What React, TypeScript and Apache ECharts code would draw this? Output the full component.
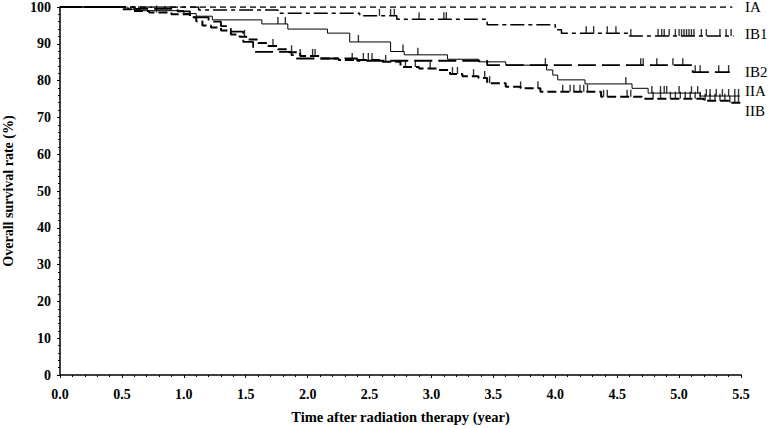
import React, { useEffect, useRef } from "react";
import * as echarts from "echarts";

// Kaplan–Meier step points: [time (year), survival (%)]
const stageNames = ["IA", "IB1", "IB2", "IIA", "IIB"];

const iaSteps: number[][] = [[0, 100]];
const iaEnd = 5.43;

const ib1Steps: number[][] = [
  [0, 100], [1.12, 99.2], [1.76, 98.3], [2.42, 97.6], [2.72, 96.7],
  [3.45, 95.2], [4.0, 93.8], [4.05, 92.9], [4.6, 92.1],
];
const ib1End = 5.44;
const ib1Censor = [
  2.58, 2.67, 2.7, 2.9, 3.1, 3.12, 4.25, 4.31, 4.42, 4.49, 4.61, 4.83, 4.86, 4.88,
  4.92, 4.97, 5.0, 5.02, 5.04, 5.06, 5.08, 5.1, 5.12, 5.18, 5.22, 5.33, 5.38, 5.42,
];

const ib2Steps: number[][] = [
  [0, 100], [0.6, 99.5], [0.95, 98.8], [1.05, 97.2], [1.2, 96.0], [1.3, 94.8],
  [1.38, 93.3], [1.48, 90.5], [1.56, 87.8], [1.87, 86.9], [1.91, 86.0],
  [2.4, 85.4], [3.45, 84.2], [5.11, 82.3],
];
const ib2End = 5.41;
const ib2Censor = [4.69, 4.71, 4.82, 4.95, 5.03, 5.13, 5.17, 5.32, 5.4];

const iiaSteps: number[][] = [
  [0, 100], [0.55, 99.4], [0.65, 99.0], [1.0, 98.2], [1.1, 97.5], [1.23, 96.5],
  [1.63, 95.4], [1.84, 94.0], [2.16, 92.9], [2.34, 90.5], [2.67, 87.9],
  [2.78, 87.0], [3.13, 85.8], [3.38, 85.1], [3.6, 84.2], [3.93, 82.9],
  [3.98, 81.5], [4.02, 80.2], [4.24, 79.1], [4.62, 77.9], [4.75, 76.6],
  [5.17, 75.8],
];
const iiaEnd = 5.49;
const iiaCensor = [
  1.76, 1.82, 2.41, 2.77, 2.89, 3.92, 4.57, 4.78, 4.85, 4.88, 4.9, 5.0, 5.1,
  5.15, 5.22, 5.25, 5.3, 5.35, 5.4, 5.45, 5.48,
];

const iibSteps: number[][] = [
  [0, 100], [0.5, 99.4], [0.58, 98.9], [0.72, 98.5], [0.9, 98.0], [1.05, 97.2],
  [1.1, 96.1], [1.15, 95.0], [1.22, 94.4], [1.3, 93.6], [1.38, 92.5],
  [1.45, 91.9], [1.52, 91.2], [1.6, 90.2], [1.68, 89.4], [1.76, 88.5],
  [1.85, 87.7], [1.94, 86.7], [2.1, 86.0], [2.25, 85.6], [2.6, 85.1],
  [2.75, 83.7], [2.9, 83.3], [3.05, 82.9], [3.15, 81.8], [3.25, 81.2],
  [3.38, 80.7], [3.45, 79.3], [3.6, 78.3], [3.72, 77.9], [3.88, 77.0],
  [4.37, 75.6], [4.7, 75.1], [5.2, 74.5], [5.4, 74.0],
];
const iibEnd = 5.5;
const iibCensor = [
  0.78, 1.49, 1.72, 1.87, 1.94, 2.04, 2.06, 2.36, 2.45, 2.49, 2.52, 2.63, 2.79,
  2.87, 2.99, 3.17, 3.21, 3.34, 3.43, 3.47, 3.72, 3.86, 4.06, 4.12, 4.15, 4.2,
  4.23, 4.26, 4.39, 4.42, 4.58, 4.61, 4.79, 4.85, 4.93, 4.97, 5.01, 5.05, 5.09,
  5.13, 5.17, 5.21, 5.25, 5.29, 5.33, 5.37, 5.41, 5.45, 5.48,
];

const xTicks = [0, 0.5, 1, 1.5, 2, 2.5, 3, 3.5, 4, 4.5, 5, 5.5];

function withEnd(steps: number[][], end: number): number[][] {
  const last = steps[steps.length - 1];
  return [...steps, [end, last[1]]];
}

function survAt(steps: number[][], t: number): number {
  let v = steps[0][1];
  for (const s of steps) {
    if (s[0] <= t) v = s[1];
  }
  return v;
}

const FONT = "Liberation Serif";

export default function App() {
  const ref = useRef<HTMLDivElement>(null);
  useEffect(() => {
    if (!ref.current) return;
    const chart = echarts.init(ref.current, null, { renderer: "svg" });

    const curves = [
      { name: stageNames[0], steps: iaSteps, end: iaEnd, censor: [] as number[], dash: [6, 4] as any, width: 1.5 },
      { name: stageNames[1], steps: ib1Steps, end: ib1End, censor: ib1Censor, dash: [14, 4, 4, 4] as any, width: 1.5 },
      { name: stageNames[2], steps: ib2Steps, end: ib2End, censor: ib2Censor, dash: [18, 6] as any, width: 1.8 },
      { name: stageNames[3], steps: iiaSteps, end: iiaEnd, censor: iiaCensor, dash: "solid" as any, width: 1 },
      { name: stageNames[4], steps: iibSteps, end: iibEnd, censor: iibCensor, dash: [9, 4] as any, width: 2 },
    ];

    const series: any[] = [];
    curves.forEach((c) => {
      series.push({
        type: "line",
        name: c.name,
        step: "end",
        showSymbol: false,
        symbol: "none",
        data: withEnd(c.steps, c.end),
        lineStyle: { color: "#000", width: c.width, type: c.dash },
        silent: true,
        z: 2,
      });
      if (c.censor.length) {
        series.push({
          type: "scatter",
          name: c.name + " censored",
          data: c.censor.map((t) => [t, survAt(c.steps, t)]),
          symbol: "rect",
          symbolSize: [1.4, 7],
          symbolOffset: [0, -3.5],
          itemStyle: { color: "#000" },
          silent: true,
          z: 3,
        });
      }
    });

    const labelY = [7, 34, 72, 91, 111];
    const graphic = stageNames.map((n, i) => ({
      type: "text",
      left: 745,
      top: labelY[i] - 8,
      style: { text: n, font: `15px "${FONT}"`, fill: "#000" },
    }));

    chart.setOption({
      animation: false,
      backgroundColor: "#fff",
      grid: { left: 60, right: 27, top: 7, bottom: 53, containLabel: false, outerBoundsMode: "none" },
      xAxis: {
        type: "value",
        min: 0,
        max: 5.5,
        interval: 0.5,
        name: "Time after radiation therapy (year)",
        nameLocation: "middle",
        nameGap: 34,
        nameTextStyle: { fontFamily: FONT, fontSize: 14.5, fontWeight: "bold", color: "#000" },
        axisLine: { lineStyle: { color: "#000", width: 1.5 } },
        axisTick: { show: true, length: 3, lineStyle: { color: "#000" } },
        minorTick: { show: true, splitNumber: 5, length: 2, lineStyle: { color: "#000" } },
        splitLine: { show: false },
        axisLabel: {
          fontFamily: FONT,
          fontSize: 14,
          fontWeight: "bold",
          color: "#000",
          margin: 12,
          formatter: (v: number) => (xTicks.includes(v) ? v.toFixed(1) : ""),
        },
      },
      yAxis: {
        type: "value",
        min: 0,
        max: 100,
        interval: 10,
        name: "Overall survival rate (%)",
        nameLocation: "middle",
        nameGap: 45,
        nameTextStyle: { fontFamily: FONT, fontSize: 14, fontWeight: "bold", color: "#000" },
        axisLine: { show: true, lineStyle: { color: "#000", width: 1.5 } },
        axisTick: { show: true, length: 3, lineStyle: { color: "#000" } },
        minorTick: { show: true, splitNumber: 5, length: 2, lineStyle: { color: "#000" } },
        splitLine: { show: false },
        axisLabel: { fontFamily: FONT, fontSize: 14, fontWeight: "bold", color: "#000", margin: 9 },
      },
      graphic,
      series,
    });
    return () => chart.dispose();
  }, []);
  return (
    <div
      ref={ref}
      style={{ position: "fixed", left: 0, top: 0, width: 768, height: 428, background: "#fff" }}
    />
  );
}
